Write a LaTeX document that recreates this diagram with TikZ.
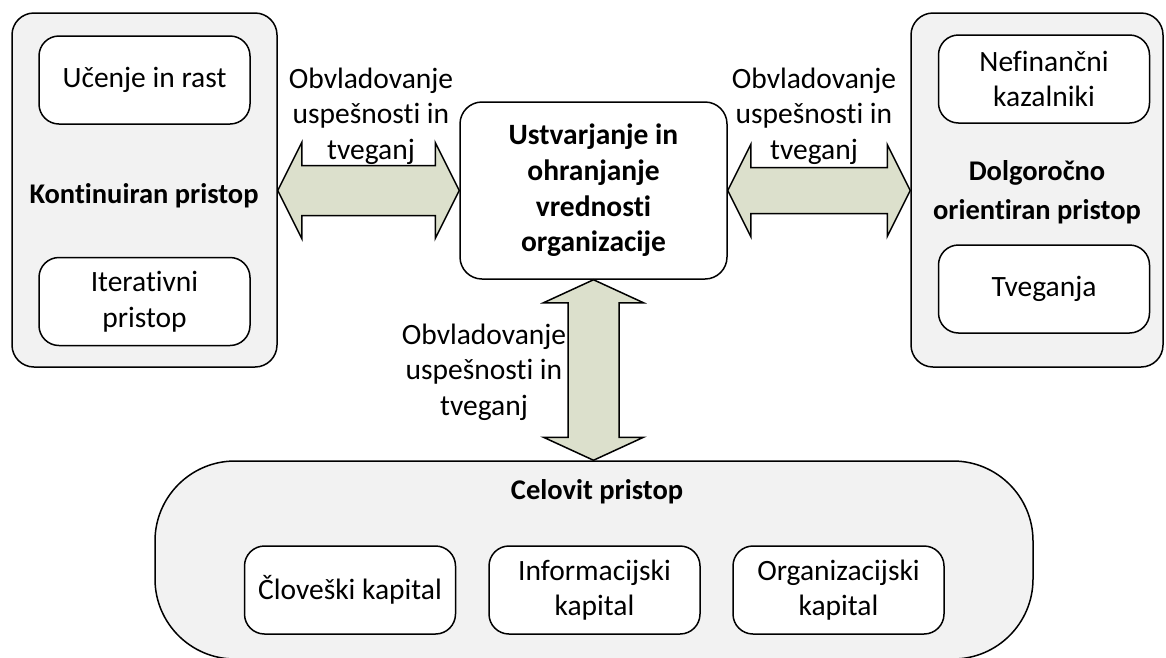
\documentclass[tikz,border=0pt]{standalone}
\usepackage{fontspec}
\setmainfont{Carlito}[RawFeature={-liga,-dlig,-clig,-calt}]
\usetikzlibrary{calc}
\definecolor{panelgray}{HTML}{F2F2F2}
\definecolor{arrowfill}{HTML}{DCE0CC}
% keeps "t" and "i" as separate glyphs
\newcommand\nolig{\kern0pt{}}
\begin{document}
\begin{tikzpicture}[x=1pt,y=-1pt,
  every node/.style={font=\fontsize{29.5}{35.5}\selectfont, align=center, inner sep=0pt},
  panel/.style={draw, line width=1.5pt, fill=panelgray, rounded corners=22pt},
  itembox/.style={draw, line width=1.5pt, fill=white, rounded corners=20pt,
                  minimum width=211pt, minimum height=88pt},
  blockarrow/.style={draw, line width=1.5pt, fill=arrowfill, line join=miter},
  heading/.style={font=\bfseries\fontsize{28.5}{39}\selectfont},
  flowlabel/.style={font=\fontsize{29.5}{35.5}\selectfont},
]
\clip (0,0) rectangle (1166,657);

% outer panels
\node[panel, minimum width=265pt, minimum height=354pt] (K) at (144.5,190) {};
\node[panel, minimum width=252pt, minimum height=354pt] (D) at (1037,190) {};
\node[panel, rounded corners=80pt, minimum width=878pt, minimum height=198pt] (P) at (594,560) {};

% central box
\node[itembox, minimum width=267pt, minimum height=177pt, rounded corners=22pt,
      font=\bfseries\fontsize{29.5}{35.7}\selectfont] (C) at (593.5,190.5)
      {\raisebox{-3pt}{\parbox{260pt}{\centering Ustvarjanje in\\ohranjanje\\vrednost\nolig i\\organizacije}}};

% panel headings
\node[heading] (kt) at (144,196) {Kontinuiran pristop};
\node[heading] (dt) at (1037,192) {Dolgoročno\\orientiran pristop};
\node[heading] (ct) at (597,492) {Celovit pristop};

% items inside the panels
\node[itembox] (U)  at (144.5,80)  {\raisebox{-2pt}{Učenje in rast}};
\node[itembox] (I)  at (144.5,301.5) {Iterat\nolig ivni\\pristop};
\node[itembox] (N)  at (1044,79)   {Nefinančni\\kazalniki};
\node[itembox] (T)  at (1044,289)  {\raisebox{-2pt}{Tveganja}};
\node[itembox] (CK) at (350,590)   {\raisebox{-2pt}{Človeški kapital}};
\node[itembox] (IK) at (594.5,590) {Informacijski\\kapital};
\node[itembox] (OK) at (838.5,590) {Organizacijski\\kapital};

% arrow end points
\coordinate (la) at (K.east |- C.west);
\coordinate (lb) at (C.west);
\coordinate (ra) at (C.east);
\coordinate (rb) at (D.west |- C.east);
\coordinate (ta) at (C.south);
\coordinate (tb) at (C.south |- P.north);

% horizontal double block arrows
\draw[blockarrow] (la) -- ++(24,-48) -- ++(0,23) -- ($(lb)+(-24,-25)$) -- ++(0,-23)
  -- (lb) -- ++(-24,48) -- ++(0,-23) -- ($(la)+(24,25)$) -- ++(0,23) -- cycle;
\draw[blockarrow] (ra) -- ++(23,-46) -- ++(0,23) -- ($(rb)+(-23,-23)$) -- ++(0,-23)
  -- (rb) -- ++(-23,46) -- ++(0,-23) -- ($(ra)+(23,23)$) -- ++(0,23) -- cycle;

% vertical double block arrow
\draw[blockarrow] (ta) -- ++(50,23) -- ++(-24.5,0) -- ($(tb)+(25.5,-23)$) -- ++(24.5,0)
  -- (tb) -- ++(-50,-23) -- ++(24.5,0) -- ($(ta)+(-25.5,23)$) -- ++(-24.5,0) -- cycle;

% arrow labels
\node[flowlabel] (l1) at (371,116) {Obvladovanje\\uspešnost\nolig i in\\tveganj};
\node[flowlabel] (l2) at (814,116) {Obvladovanje\\uspešnost\nolig i in\\tveganj};
\node[flowlabel] (l3) at (484,372) {Obvladovanje\\uspešnost\nolig i in\\tveganj};
\end{tikzpicture}
\end{document}
